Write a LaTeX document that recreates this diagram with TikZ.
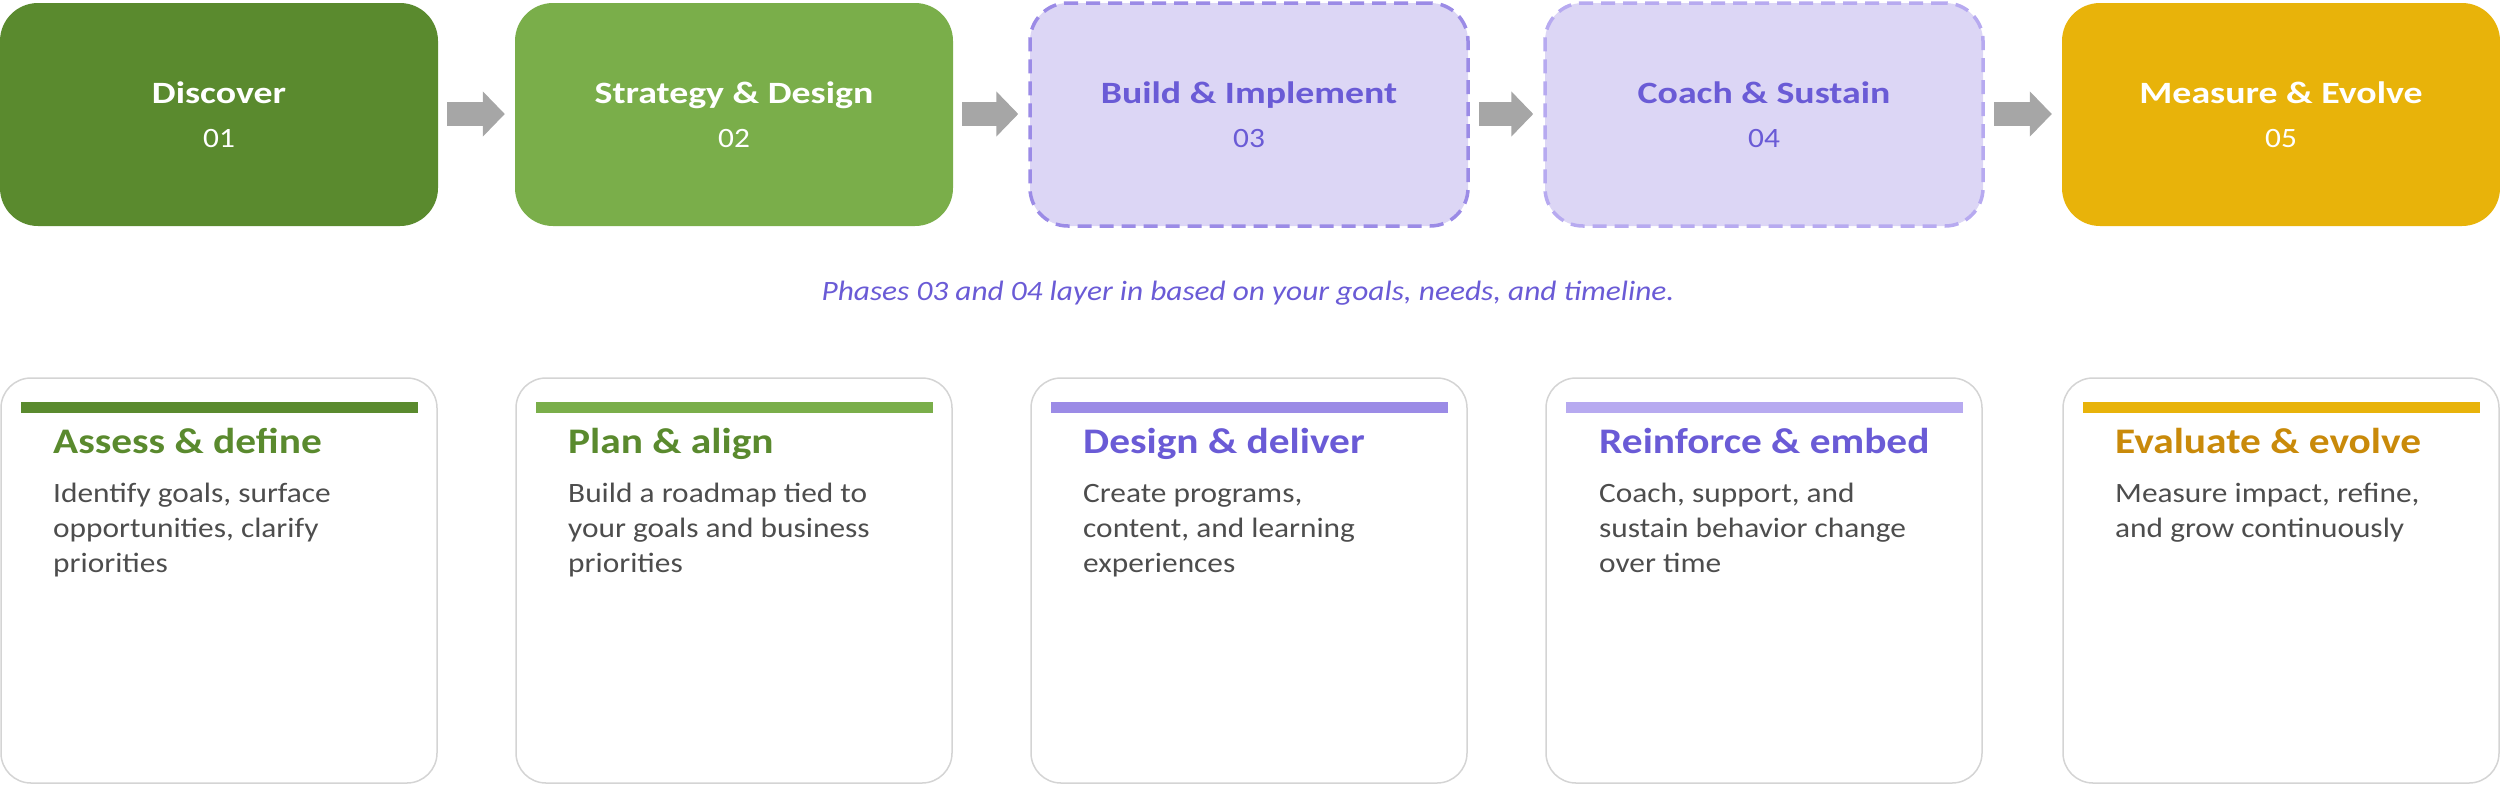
\documentclass[tikz,border=0pt]{standalone}
\usepackage{fontspec}
\setmainfont{Carlito}[FakeStretch=1.12]
\newfontfamily\titlef{Carlito}[FakeStretch=1.22]
\newfontfamily\headf{Carlito}[FakeStretch=1.15]
\usetikzlibrary{arrows.meta,calc}
\definecolor{gdark}{HTML}{5A8A2E}
\definecolor{glight}{HTML}{7AAE4A}
\definecolor{lav}{HTML}{DCD6F5}
\definecolor{purpmid}{HTML}{9B8BE6}
\definecolor{purplt}{HTML}{B7AAF0}
\definecolor{purptext}{HTML}{6A5BD6}
\definecolor{gold}{HTML}{E8B30A}
\definecolor{goldtext}{HTML}{C98A0A}
\definecolor{arrowgray}{HTML}{A6A6A6}
\definecolor{bodygray}{HTML}{4D4D4D}
\definecolor{cardline}{HTML}{D4D4D4}
\tikzset{
  phase/.style={rectangle, rounded corners=38pt, minimum width=438pt, minimum height=223pt, inner sep=0pt},
  phasedash/.style={phase, line width=3.5pt, dash pattern=on 14pt off 8pt},
  ptitle/.style={anchor=base, inner sep=0pt, font=\titlef\fontsize{31}{37}\selectfont\bfseries},
  pnum/.style={anchor=base, inner sep=0pt, font=\fontsize{28}{34}\selectfont},
  flow/.style={arrowgray, line width=24pt, -{Triangle[width=44pt,length=22pt]}},
  card/.style={rectangle, rounded corners=30pt, draw=cardline, line width=1.5pt, minimum width=436pt, minimum height=405pt, inner sep=0pt},
  cbar/.style={rectangle, minimum width=397pt, minimum height=11pt, inner sep=0pt},
  chead/.style={anchor=base west, inner sep=0pt, font=\headf\fontsize{36}{42}\selectfont\bfseries},
  cbody/.style={anchor=base west, inner sep=0pt, align=left, text=bodygray, font=\fontsize{28}{35}\selectfont},
}
\begin{document}
\begin{tikzpicture}[x=1pt,y=-1pt]
\useasboundingbox (0,0) rectangle (2500,785);
% top phases
\node[phase, fill=gdark] (p1) at (219,114.5) {};
\node[phase, fill=glight] (p2) at (734,114.5) {};
\node[phasedash, fill=lav, draw=purpmid] (p3) at (1249,114.5) {};
\node[phasedash, fill=lav, draw=purplt] (p4) at (1764,114.5) {};
\node[phase, fill=gold] (p5) at (2281,114.5) {};
\node[ptitle, text=white] (t1) at (219,103) {Discover};
\node[pnum, text=white] (n1) at (219,147) {01};
\node[ptitle, text=white] (t2) at (734,103) {Strategy \& Design};
\node[pnum, text=white] (n2) at (734,147) {02};
\node[ptitle, text=purptext] (t3) at (1249,103) {Build \& Implement};
\node[pnum, text=purptext] (n3) at (1249,147) {03};
\node[ptitle, text=purptext] (t4) at (1764,103) {Coach \& Sustain};
\node[pnum, text=purptext] (n4) at (1764,147) {04};
\node[ptitle, text=white] (t5) at (2281,103) {Measure \& Evolve};
\node[pnum, text=white] (n5) at (2281,147) {05};
% arrows
\draw[flow] ($(p1.east)+(9,-0.5)$) -- ($(p2.west)+(-10,-0.5)$);
\draw[flow] ($(p2.east)+(9,-0.5)$) -- ($(p3.west)+(-10,-0.5)$);
\draw[flow] ($(p3.east)+(9,-0.5)$) -- ($(p4.west)+(-10,-0.5)$);
\draw[flow] ($(p4.east)+(9,-0.5)$) -- ($(p5.west)+(-10,-0.5)$);
% note
\node[anchor=base, inner sep=0pt, text=purptext, font=\fontsize{28}{34}\selectfont\itshape] (note) at (1248,300) {Phases 03 and 04 layer in based on your goals, needs, and timeline.};
% cards
\node[card] (c1) at (219,580.5) {};
\node[card] (c2) at (734,580.5) {};
\node[card] (c3) at (1249,580.5) {};
\node[card] (c4) at (1764,580.5) {};
\node[card] (c5) at (2281,580.5) {};
\node[cbar, fill=gdark] (b1) at (219,407.5) {};
\node[cbar, fill=glight] (b2) at (734,407.5) {};
\node[cbar, fill=purpmid] (b3) at (1249,407.5) {};
\node[cbar, fill=purplt] (b4) at (1764,407.5) {};
\node[cbar, fill=gold] (b5) at (2281,407.5) {};
\node[chead, text=gdark] (h1) at (53,453) {Assess \& define};
\node[chead, text=gdark] (h2) at (568,453) {Plan \& align};
\node[chead, text=purptext] (h3) at (1083,453) {Design \& deliver};
\node[chead, text=purptext] (h4) at (1599,453) {Reinforce \& embed};
\node[chead, text=goldtext] (h5) at (2115,453) {Evaluate \& evolve};
% body paragraphs: base anchor is the last line's baseline
\node[cbody] (d1) at (53,572) {Identify goals, surface\\opportunities, clarify\\priorities};
\node[cbody] (d2) at (568,572) {Build a roadmap tied to\\your goals and business\\priorities};
\node[cbody] (d3) at (1083,572) {Create programs,\\content, and learning\\experiences};
\node[cbody] (d4) at (1599,572) {Coach, support, and\\sustain behavior change\\over time};
\node[cbody] (d5) at (2115,537) {Measure impact, refine,\\and grow continuously};
\end{tikzpicture}
\end{document}
